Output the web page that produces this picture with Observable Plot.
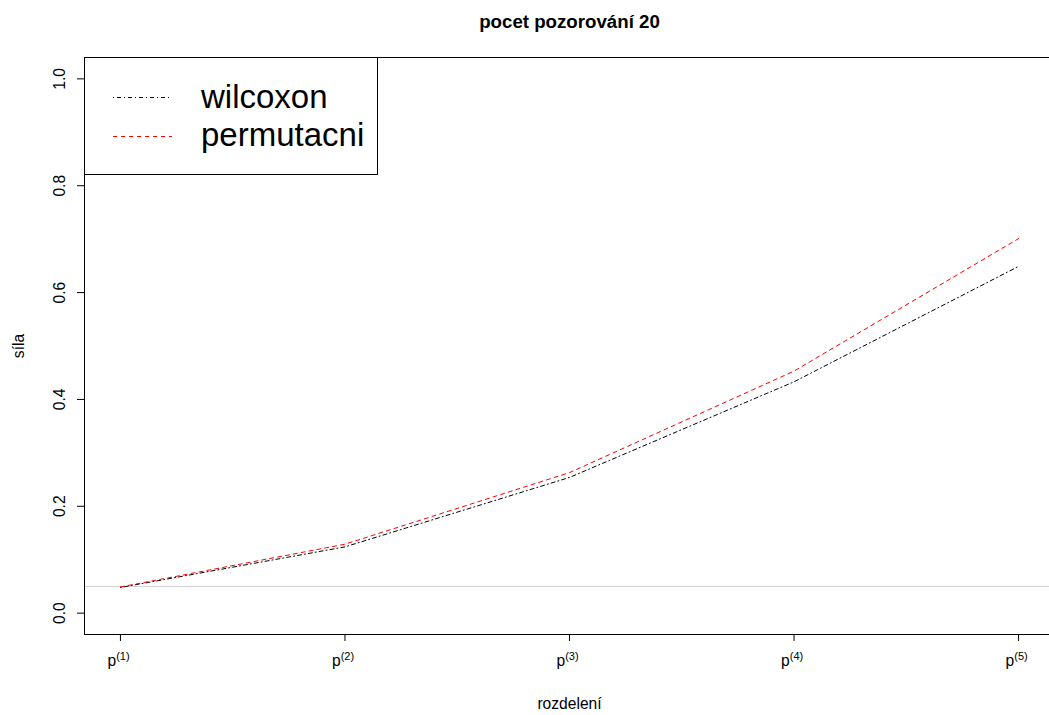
<!DOCTYPE html>
<html>
<head>
<meta charset="utf-8">
<script src="https://cdn.jsdelivr.net/npm/d3@7"></script>
<script src="https://cdn.jsdelivr.net/npm/@observablehq/plot@0.6"></script>
<style>
  html, body { margin: 0; padding: 0; background: white; overflow: hidden; }
  #chart { position: relative; width: 1049px; height: 715px; overflow: hidden; }
  #chart svg { max-width: none !important; display: block; }
</style>
</head>
<body>
<div id="chart"></div>
<script>
// distributions p(1) … p(5) on the x axis
const distIndex = [1, 2, 3, 4, 5];
const distLabels = ["(1)", "(2)", "(3)", "(4)", "(5)"];
// estimated power of the two tests, 20 observations
const wilcoxon = [0.048, 0.124, 0.254, 0.433, 0.649];
const permutacni = [0.049, 0.129, 0.263, 0.453, 0.701];
const yTicks = [0, 0.2, 0.4, 0.6, 0.8, 1.0];
const alphaLevel = 0.05;
const titleText = "pocet pozorování 20";
const xTitle = "rozdelení";
const yTitle = "síla";
const seriesNames = ["wilcoxon", "permutacni"];

const rows = [
  ...distIndex.map((x, i) => ({x, y: wilcoxon[i], test: seriesNames[0]})),
  ...distIndex.map((x, i) => ({x, y: permutacni[i], test: seriesNames[1]}))
];
const ticksX = distIndex.map((x, i) => ({x, sup: distLabels[i]}));

const font = "Liberation Sans, Arial, Helvetica, sans-serif";

const plot = Plot.plot({
  width: 1054,
  height: 715,
  marginLeft: 84,
  marginRight: 0,
  marginTop: 57,
  marginBottom: 81,
  style: {fontFamily: font, fontSize: "15.6px", background: "white", color: "black", maxWidth: "none"},
  x: {domain: [0.84, 5.16], axis: null},
  y: {domain: [-0.04, 1.04], axis: null},
  marks: [
    // reference level of the test
    Plot.ruleY([alphaLevel], {stroke: "#d0d0d0", strokeWidth: 1}),
    // power curves
    Plot.line(rows.filter(d => d.test === seriesNames[0]), {
      x: "x", y: "y", stroke: "black", strokeWidth: 1, strokeDasharray: "1,3,4,3"
    }),
    Plot.line(rows.filter(d => d.test === seriesNames[1]), {
      x: "x", y: "y", stroke: "#ff0000", strokeWidth: 1, strokeDasharray: "4,4"
    }),
    Plot.frame({stroke: "black", strokeWidth: 1}),
    // y axis: ticks with rotated labels
    Plot.axisY({
      ticks: yTicks, tickSize: 7, tickPadding: 13, tickRotate: -90,
      tickFormat: d => d.toFixed(1), label: null, fontSize: 15.6
    }),
    // x axis: ticks, labels built from "p" and a superscript
    Plot.axisX({
      ticks: distIndex, tickSize: 7, tickFormat: () => "", label: null
    }),
    Plot.text(ticksX, {
      x: "x", text: () => "p", frameAnchor: "bottom", dy: 31, dx: -13,
      textAnchor: "start", lineAnchor: "bottom", fontSize: 15.6
    }),
    Plot.text(ticksX, {
      x: "x", text: "sup", frameAnchor: "bottom", dy: 25.5, dx: -4.3,
      textAnchor: "start", lineAnchor: "bottom", fontSize: 11
    }),
    // axis titles and main title
    Plot.text([yTitle], {
      frameAnchor: "left", dx: -61, rotate: -90, textAnchor: "middle",
      lineAnchor: "bottom", fontSize: 15.6
    }),
    Plot.text([xTitle], {
      frameAnchor: "bottom", dy: 74, textAnchor: "middle",
      lineAnchor: "bottom", fontSize: 15.6
    }),
    Plot.text([titleText], {
      frameAnchor: "top", dy: -30, textAnchor: "middle",
      lineAnchor: "bottom", fontSize: 18.7, fontWeight: "bold"
    })
  ]
});

document.getElementById("chart").appendChild(plot);

// legend box in the top-left corner of the plotting region
const svg = d3.select(plot);
const legend = svg.append("g")
  .attr("font-family", font)
  .attr("text-anchor", "start");
legend.append("rect")
  .attr("x", 84.5).attr("y", 57.5).attr("width", 293).attr("height", 117)
  .attr("fill", "white").attr("stroke", "black").attr("stroke-width", 1);
const legendItems = [
  {name: seriesNames[0], stroke: "black", dash: "1,3,4,3", ly: 97, ty: 108},
  {name: seriesNames[1], stroke: "#ff0000", dash: "4,4", ly: 136, ty: 146}
];
for (const it of legendItems) {
  legend.append("line")
    .attr("x1", 113).attr("x2", 172).attr("y1", it.ly + 0.5).attr("y2", it.ly + 0.5)
    .attr("stroke", it.stroke).attr("stroke-width", 1).attr("stroke-dasharray", it.dash);
  legend.append("text")
    .attr("x", 201).attr("y", it.ty).attr("font-size", 33).attr("fill", "black")
    .attr("text-anchor", "start")
    .text(it.name);
}
</script>
</body>
</html>
